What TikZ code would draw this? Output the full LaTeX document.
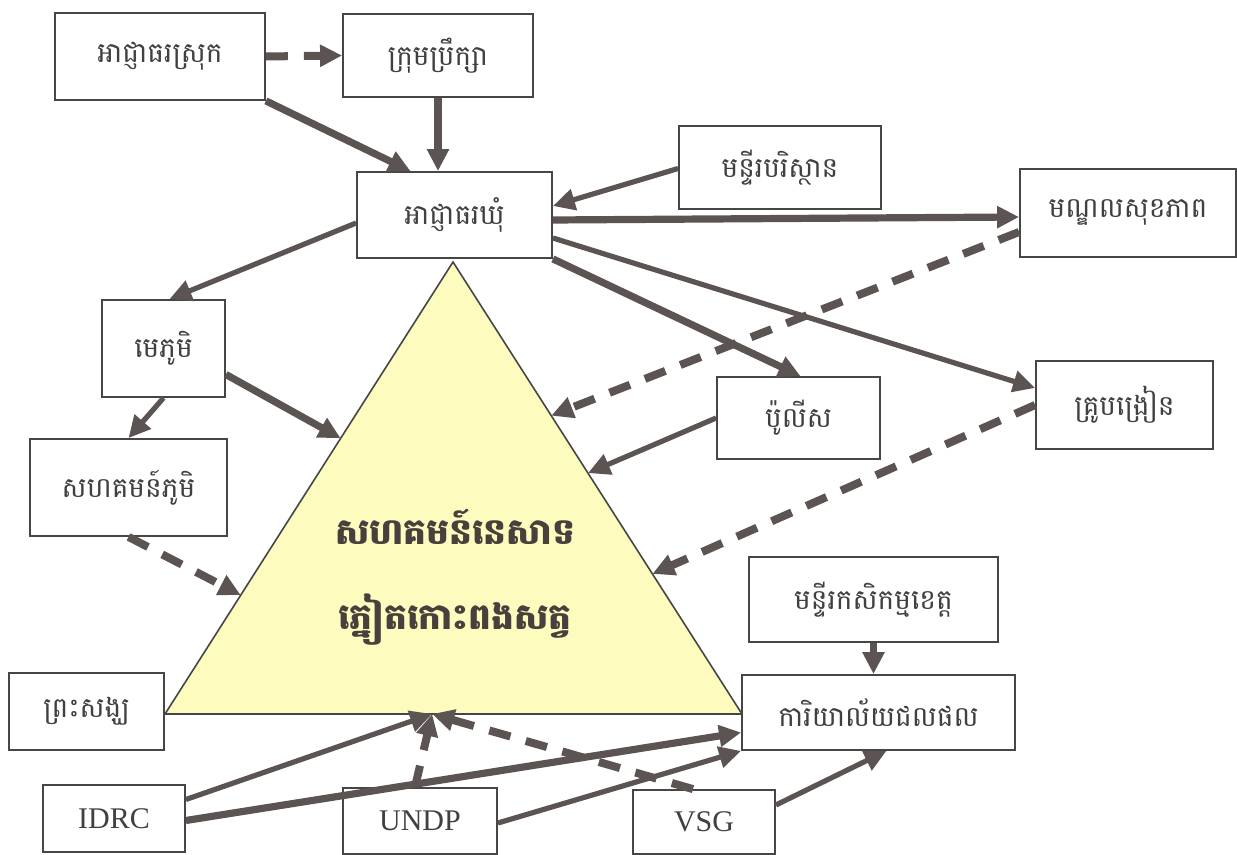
\documentclass[tikz,border=0pt]{standalone}
\usepackage{fontspec}
\setmainfont{Liberation Serif}
\newfontfamily\khfont[Script=Khmer]{Battambang}
\usetikzlibrary{arrows.meta, calc}
\definecolor{arrgray}{RGB}{92,84,82}
\definecolor{boxline}{RGB}{70,70,70}
\definecolor{triyellow}{RGB}{253,251,190}
\definecolor{tritext}{RGB}{72,64,60}

\begin{document}
\begin{tikzpicture}[
  x=0.5pt, y=-0.5pt,
  box/.style={draw=boxline, line width=0.9pt, fill=white, inner sep=0pt, text=black!75,
    font=\khfont\fontsize{14}{16}\selectfont},
  latin/.style={box, font=\fontsize{15}{17}\selectfont},
  tritxt/.style={font=\khfont\bfseries\fontsize{18}{20}\selectfont, text=tritext},
  arr/.style={color=arrgray, line width=2.6pt, -{Triangle[length=11pt, width=10.5pt]}},
  arrbold/.style={arr, line width=3.6pt},
  dasharr/.style={arr, line width=4pt, dash pattern=on 11pt off 8pt},
]
  \useasboundingbox (0,0) rectangle (1237,855);
  % central triangle
  \coordinate (tA) at (453,262);
  \coordinate (tL) at (165,714);
  \coordinate (tR) at (742,714);
  \fill[triyellow] (tA) -- (tL) -- (tR) -- cycle;
  \draw[boxline, line width=0.8pt] (tA) -- (tL) -- (tR) -- cycle;
  \node[tritxt] (tritop) at (455,527) {សហគមន៍នេសាទ};
  \node[tritxt] (tribot) at (455,620) {ភ្នៀតកោះពងសត្វ};
  % arrow ends on the triangle
  \coordinate (te) at ($(tA)!0.34!(tR)$);
  \coordinate (th) at ($(tA)!0.467!(tR)$);
  \coordinate (ti) at ($(tA)!0.69!(tR)$);
  \coordinate (tf) at ($(tA)!0.39!(tL)$);
  \coordinate (tg) at ($(tA)!0.737!(tL)$);
  \coordinate (tb) at ($(tL)!0.463!(tR)$);
  % authorities (top)
  \node[box, minimum width=105pt, minimum height=43.5pt] (district) at (160,56.5)  {អាជ្ញាធរស្រុក};
  \node[box, minimum width=95pt,  minimum height=41.5pt] (council)  at (438,55.5)  {ក្រុមប្រឹក្សា};
  \node[box, minimum width=97.5pt,minimum height=43pt]   (commune)  at (454.5,215) {អាជ្ញាធរឃុំ};
  \node[box, minimum width=101pt, minimum height=41.5pt] (envdep)   at (780,167.5) {មន្ទីរបរិស្ថាន};
  \node[box, minimum width=108pt, minimum height=44pt]   (health)   at (1128,213)  {មណ្ឌលសុខភាព};
  % village side
  \node[box, minimum width=61.5pt, minimum height=48.5pt] (chief)   at (163.5,348.5) {មេភូមិ};
  \node[box, minimum width=98.5pt, minimum height=48.5pt] (village) at (128.5,487.5) {សហគមន៍ភូមិ};
  \node[box, minimum width=81.5pt, minimum height=41pt]   (police)  at (798.5,418)   {ប៉ូលីស};
  \node[box, minimum width=88.5pt, minimum height=44pt]   (teacher) at (1124.5,405)  {គ្រូបង្រៀន};
  % fisheries
  \node[box, minimum width=124.5pt, minimum height=42.5pt] (agri)  at (873.5,599.5) {មន្ទីរកសិកម្មខេត្ត};
  \node[box, minimum width=136.5pt, minimum height=37.5pt] (fish)  at (878.5,712.5) {ការិយាល័យជលផល};
  \node[box, minimum width=77.5pt,  minimum height=38.5pt] (monks) at (86.5,711.5)  {ព្រះសង្ឃ};
  % donors
  \node[latin, minimum width=71pt, minimum height=33.5pt] (idrc) at (114,818.5) {IDRC};
  \node[latin, minimum width=77pt, minimum height=33pt]   (undp) at (420,821)   {UNDP};
  \node[latin, minimum width=71pt, minimum height=32pt]   (vsg)  at (704,822)   {VSG};
  % top chain
  \draw[dasharr] (district.east) -- (council.west);
  \draw[arrbold] (district.south east) -- ($(commune.north)+(-44,0)$);
  \draw[arrbold] (council.south) -- (council.south |- commune.north);
  \draw[arr] ($(envdep.west)+(0,1)$) -- ($(commune.east)+(0,-9)$);
  \draw[arrbold] ($(commune.east)+(0,5)$) -- ($(health.west)+(0,4)$);
  \draw[arr] ($(commune.east)+(0,23)$) -- ($(teacher.west)+(0,-17)$);
  \draw[arrbold] (commune.south east) -- ($(police.north)+(2,0)$);
  \draw[arr] ($(commune.west)+(0,8)$) -- ($(chief.north)+(6,0)$);
  % into the triangle
  \draw[dasharr] ($(health.west)+(0,19)$) -- (te);
  \draw[arr] (police.west) -- (th);
  \draw[dasharr] (teacher.west) -- (ti);
  \draw[arr] (chief.south) -- (village.north);
  \draw[arrbold] ($(chief.east)+(0,26)$) -- (tf);
  \draw[dasharr] (village.south) -- (tg);
  % bottom
  \draw[arrbold] (agri.south) -- (agri.south |- fish.north);
  \draw[arr] ($(idrc.east)+(0,-19)$) -- (tb);
  \draw[arrbold] ($(idrc.east)+(0,2)$) -- ($(fish.west)+(0,20)$);
  \draw[arr] ($(undp.east)+(0,2)$) -- (fish.south west);
  \draw[arr] ($(vsg.east)+(0,-17)$) -- ($(fish.south)+(8,0)$);
  \draw[dasharr] ($(undp.north)+(-5,0)$) -- (tb);
  \draw[dasharr] ($(vsg.north)+(-11,0)$) -- (tb);
\end{tikzpicture}
\end{document}
